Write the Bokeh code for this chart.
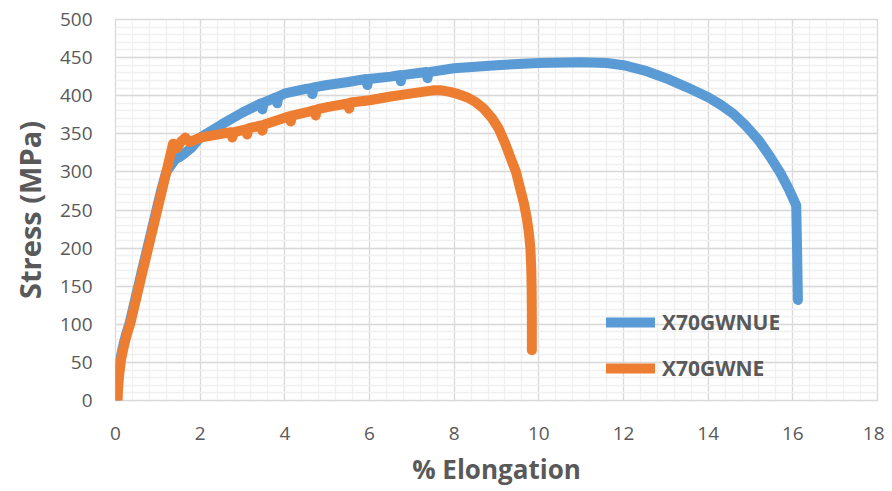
from bokeh.plotting import figure
from bokeh.models import (Range1d, SingleIntervalTicker, Legend, LegendItem)
from bokeh.embed import file_html
from bokeh.resources import INLINE

# ---- data ----
blue_name = "X70GWNUE"
blue_x = [0.00, 0.03, 0.07, 0.11, 0.18, 0.25, 0.33, 0.58, 0.83, 1.08, 1.20, 1.42, 1.50, 1.60, 1.80,
          2.00, 2.50, 3.00, 3.44, 3.47, 3.50, 3.79, 3.82, 3.85, 4.00, 4.50, 4.62, 4.65, 4.68,
          5.00, 5.50, 5.92, 5.95, 5.98, 6.50, 6.71, 6.74, 6.77, 7.34, 7.37, 7.40, 8.00,
          9.00, 10.00, 11.00, 11.60, 12.00, 12.50, 13.00, 13.50, 14.00, 14.30, 14.60,
          14.90, 15.20, 15.45, 15.70, 15.90, 16.08, 16.10, 16.12]
blue_y = [0, 15, 35, 53, 72, 87, 101, 160, 218, 276, 300, 317, 319, 323, 332,
          345, 362, 378, 390, 382, 391, 398, 390, 399, 403, 409, 410, 402, 411,
          414, 418, 422, 414, 422, 425, 427, 419, 427, 431, 423, 431, 436,
          440, 443, 444, 443, 440, 433, 423, 411, 398, 388, 376,
          360, 341, 321, 299, 278, 256, 200, 132]

orange_name = "X70GWNE"
orange_x = [0.05, 0.06, 0.09, 0.13, 0.20, 0.27, 0.35, 0.60, 0.85, 1.10, 1.36, 1.45, 1.55,
            1.65, 1.75, 2.00, 2.50, 2.73, 2.76, 2.79, 3.08, 3.11, 3.14, 3.44, 3.47, 3.50,
            4.00, 4.11, 4.14, 4.17, 4.50, 4.70, 4.73, 4.76, 5.00, 5.49, 5.52, 5.55, 6.00,
            6.50, 7.00, 7.50, 7.70, 7.90, 8.10, 8.30, 8.50, 8.70, 8.90, 9.05, 9.20, 9.35,
            9.46, 9.56, 9.65, 9.72, 9.77, 9.80, 9.82, 9.83, 9.835, 9.835]
orange_y = [0, 15, 35, 53, 72, 87, 101, 160, 218, 276, 337, 331, 340,
            345, 339, 345, 350, 352, 345, 352, 356, 349, 357, 361, 354, 362,
            371, 373, 366, 374, 378, 381, 374, 382, 385, 390, 383, 391, 394,
            399, 403, 407, 407, 405, 402, 398, 392, 383, 370, 357, 338, 316,
            300, 278, 258, 238, 218, 200, 175, 149, 110, 66]

x_title = "% Elongation"
y_title = "Stress (MPa)"

BLUE = "#5B9BD5"
ORANGE = "#ED7D31"
TXT = "#595959"

p = figure(width=884, height=489, output_backend="svg", toolbar_location=None,
           x_range=Range1d(0, 18), y_range=Range1d(0, 500),
           min_border_left=115, min_border_right=7, min_border_top=19, min_border_bottom=88)

p.outline_line_color = "#D9D9D9"
p.outline_line_width = 1.3
p.background_fill_color = "white"
p.border_fill_color = "white"

p.xaxis.ticker = SingleIntervalTicker(interval=2, num_minor_ticks=5)
p.yaxis.ticker = SingleIntervalTicker(interval=50, num_minor_ticks=5)

for g in (p.xgrid, p.ygrid):
    g.grid_line_color = "#D9D9D9"
    g.grid_line_width = 1.3
    g.minor_grid_line_color = "#F0F0F0"
    g.minor_grid_line_width = 1.3

for ax in (p.xaxis, p.yaxis):
    ax.axis_line_color = None
    ax.major_tick_line_color = None
    ax.minor_tick_line_color = None
    ax.major_tick_out = 0
    ax.minor_tick_out = 0
    ax.major_label_text_font = "Open Sans"
    ax.major_label_text_font_size = "19px"
    ax.major_label_text_color = TXT
    ax.axis_label_text_font = "Open Sans"
    ax.axis_label_text_font_style = "bold"
    ax.axis_label_text_color = TXT

p.xaxis.major_label_standoff = 26
p.yaxis.major_label_standoff = 23
p.xaxis.axis_label = x_title
p.yaxis.axis_label = y_title
p.xaxis.axis_label_text_font_size = "26px"
p.yaxis.axis_label_text_font_size = "29px"
p.xaxis.axis_label_standoff = 8
p.yaxis.axis_label_standoff = 8

r_blue = p.line(blue_x, blue_y, line_color=BLUE, line_width=10,
                line_join="round", line_cap="round")
r_orange = p.line(orange_x, orange_y, line_color=ORANGE, line_width=10,
                  line_join="round", line_cap="round")

legend = Legend(items=[LegendItem(label=blue_name, renderers=[r_blue]),
                       LegendItem(label=orange_name, renderers=[r_orange])],
                location=(491, 18), orientation="vertical",
                padding=0, margin=0, border_line_color=None,
                background_fill_alpha=0,
                glyph_width=49, glyph_height=28, label_height=28,
                spacing=18, label_standoff=7,
                label_text_font="Open Sans", label_text_font_style="bold",
                label_text_font_size="21px", label_text_color=TXT)
p.add_layout(legend, "center")

open("out.html", "w").write(file_html(p, INLINE))
